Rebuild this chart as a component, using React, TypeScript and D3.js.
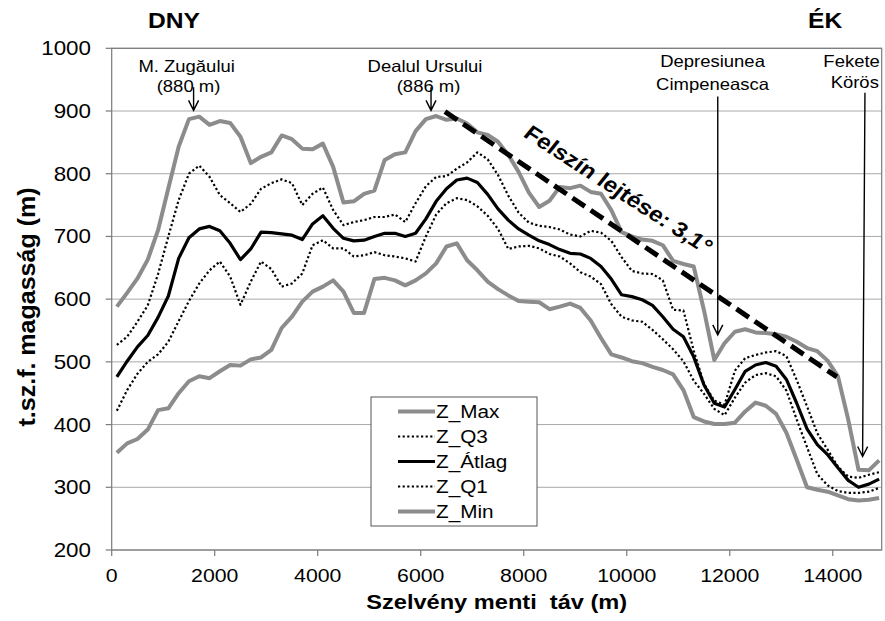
import * as d3 from "d3";

// sampling positions along the profile (m)
const DIST = d3.range(100, 15000, 200);

const zMax = [
  588, 610, 633, 663, 710, 777, 843, 887, 891, 878,
  884, 881, 859, 817, 827, 834, 861, 855, 840, 839,
  848, 811, 754, 756, 768, 773, 822, 831, 834, 868,
  887, 892, 886, 888, 880, 866, 862, 851, 830, 803,
  770, 747, 757, 779, 777, 781, 771, 768, 742, 707,
  700, 695, 693, 686, 661, 656, 652, 582, 503, 530,
  548, 552, 547, 546, 544, 540, 532, 522, 517, 502,
  477, 408, 328, 327, 343,
];
const zQ3 = [
  527, 540, 564, 590, 640, 700, 758, 800, 813, 795,
  766, 753, 739, 752, 776, 785, 791, 785, 750, 768,
  778, 742, 718, 723, 726, 731, 731, 735, 723, 753,
  780, 795, 796, 808, 818, 834, 823, 798, 765, 738,
  722, 717, 715, 711, 703, 700, 709, 706, 693, 667,
  645, 641, 640, 630, 583, 582, 518, 465, 438, 432,
  486, 506, 511, 515, 517, 509, 471, 429, 386, 360,
  333, 317, 315, 320, 324,
];
const zAtlag = [
  476, 501, 524, 542, 571, 605, 665, 698, 712, 716,
  709, 689, 663, 680, 707, 706, 704, 702, 695, 720,
  733, 713, 697, 693, 694, 700, 705, 705, 700, 705,
  728, 756, 776, 790, 793, 786, 767, 744, 726, 712,
  702, 693, 687, 679, 673, 672, 665, 652, 632, 607,
  604, 599, 590, 572, 552, 540, 508, 463, 434, 428,
  456, 485, 495, 499, 493, 472, 434, 393, 368, 352,
  331, 311, 300, 305, 313,
];
const zQ1 = [
  422, 455, 481, 500, 512, 532, 565, 597, 625, 646,
  660, 636, 591, 628, 660, 648, 620, 625, 641, 686,
  694, 681, 681, 668, 670, 675, 670, 668, 665, 660,
  700, 735, 753, 761, 758, 748, 733, 712, 680, 684,
  685, 681, 672, 668, 657, 643, 636, 624, 592, 572,
  566, 564, 551, 536, 520, 501, 470, 449, 425, 415,
  443, 467, 479, 482, 477, 454, 408, 364, 321, 303,
  294, 291, 291, 293, 299,
];
const zMin = [
  355, 370, 377, 392, 423, 426, 450, 469, 477, 474,
  485, 495, 494, 504, 507, 519, 554, 572, 596, 612,
  620, 630, 612, 578, 578, 632, 634, 630, 622, 630,
  641, 657, 684, 689, 662, 646, 628, 616, 606, 597,
  596, 595, 584, 588, 593, 586, 566, 538, 512, 507,
  501, 498, 492, 487, 480, 455, 412, 405, 401, 401,
  403, 421, 435, 430, 417, 387, 344, 300, 296, 293,
  287, 281, 279, 280, 283,
];

const xTicks = [0, 2000, 4000, 6000, 8000, 10000, 12000, 14000];
const yTicks = [200, 300, 400, 500, 600, 700, 800, 900, 1000];

// annotation texts (data units)
const labels = [
  { text: "M. Zugăului", x: 1455, y: 962, anchor: "middle" },
  { text: "(880 m)", x: 1491, y: 931, anchor: "middle" },
  { text: "Dealul Ursului", x: 6083, y: 962, anchor: "middle" },
  { text: "(886 m)", x: 6151, y: 931, anchor: "middle" },
  { text: "Depresiunea", x: 11666, y: 970, anchor: "middle" },
  { text: "Cimpeneasca", x: 11666, y: 934, anchor: "middle" },
  { text: "Fekete", x: 14913, y: 970, anchor: "end" },
  { text: "Körös", x: 14895, y: 937, anchor: "end" },
];
const arrows = [
  { x1: 1590, y1: 938, x2: 1590, y2: 901 },
  { x1: 6200, y1: 938, x2: 6200, y2: 901 },
  { x1: 11767, y1: 923, x2: 11767, y2: 543 },
  { x1: 14625, y1: 929, x2: 14579, y2: 349 },
];
const slope = { x1: 6470, y1: 899, x2: 14080, y2: 476 };

const W = 885;
const H = 621;
const SX = 1.12; // text in the picture is a little wider than normal
const FONT = "'Liberation Sans', Arial, sans-serif";
const GRAY = "#8c8c8c";

const series = [
  { name: "Z_Max", values: zMax, color: GRAY, width: 4, dash: "" },
  { name: "Z_Q3", values: zQ3, color: "#000", width: 2.2, dash: "2.2 2.4" },
  { name: "Z_Átlag", values: zAtlag, color: "#000", width: 3.2, dash: "" },
  { name: "Z_Q1", values: zQ1, color: "#000", width: 2.2, dash: "2.2 2.4" },
  { name: "Z_Min", values: zMin, color: GRAY, width: 4, dash: "" },
];

function T({ x, y, size, anchor = "start", weight = "normal", children, rotate = 0, len }: any) {
  return (
    <text
      transform={`translate(${x},${y}) scale(${SX},1) rotate(${rotate})`}
      fontSize={size}
      fontFamily={FONT}
      fontWeight={weight}
      textAnchor={anchor}
      fill="#000"
      style={{ whiteSpace: "pre" }}
      textLength={len}
      lengthAdjust={len ? "spacingAndGlyphs" : undefined}
    >
      {children}
    </text>
  );
}

export default function App() {
  const x = d3.scaleLinear().domain([0, 14950]).range([111.7, 881.7]);
  const y = d3.scaleLinear().domain([200, 1000]).range([550, 48.3]);
  const [x0, x1] = x.range();
  const [y0, y1] = y.range();

  const line = d3
    .line<number>()
    .x((_, i) => x(DIST[i]))
    .y((d) => y(d));

  const arrowPath = (a: { x1: number; y1: number; x2: number; y2: number }) => {
    const ax = x(a.x1), ay = y(a.y1), bx = x(a.x2), by = y(a.y2);
    const ang = Math.atan2(by - ay, bx - ax);
    const L = 10, Wd = 5;
    const cx = bx - L * Math.cos(ang), cy = by - L * Math.sin(ang);
    const px = -Math.sin(ang) * Wd, py = Math.cos(ang) * Wd;
    return `M${ax},${ay}L${bx},${by}M${cx + px},${cy + py}L${bx},${by}L${cx - px},${cy - py}`;
  };

  const legendX = 371, legendY = 397, legendW = 166, legendH = 129;

  return (
    <svg width={W} height={H} style={{ position: "absolute", left: 0, top: 0, background: "#fff" }}>
      {/* grid */}
      {yTicks.map((t) => (
        <line key={t} x1={x0} x2={x1} y1={y(t)} y2={y(t)} stroke="#a8a8a8" strokeWidth={1} />
      ))}
      {/* plot box */}
      <rect x={x0} y={y1} width={x1 - x0} height={y0 - y1} fill="none" stroke="#7a7a7a" strokeWidth={1.2} />
      {/* ticks */}
      {yTicks.map((t) => (
        <line key={"yt" + t} x1={x0 - 6} x2={x0} y1={y(t)} y2={y(t)} stroke="#7a7a7a" strokeWidth={1.2} />
      ))}
      {xTicks.map((t) => (
        <line key={"xt" + t} x1={x(t)} x2={x(t)} y1={y0} y2={y0 + 6} stroke="#7a7a7a" strokeWidth={1.2} />
      ))}
      {yTicks.map((t) => (
        <T key={"yl" + t} x={91} y={y(t) + 7} size={20} anchor="end">
          {t}
        </T>
      ))}
      {xTicks.map((t) => (
        <T key={"xl" + t} x={x(t)} y={582} size={19} anchor="middle">
          {t}
        </T>
      ))}

      {/* series */}
      {[...series].reverse().map((s) => (
        <path
          key={s.name}
          d={line(s.values) || ""}
          fill="none"
          stroke={s.color}
          strokeWidth={s.width}
          strokeDasharray={s.dash || undefined}
          strokeLinejoin="round"
        />
      ))}

      {/* slope line */}
      <line
        x1={x(slope.x1)}
        y1={y(slope.y1)}
        x2={x(slope.x2)}
        y2={y(slope.y2)}
        stroke="#000"
        strokeWidth={5}
        strokeDasharray="15 7"
      />
      <T x={x(7973)} y={y(860)} size={21} weight="bold" rotate={36} len={202}>
        Felszín lejtése: 3,1°
      </T>

      {/* annotations */}
      {labels.map((l) => (
        <T key={l.text} x={x(l.x)} y={y(l.y)} size={16.5} anchor={l.anchor}>
          {l.text}
        </T>
      ))}
      {arrows.map((a, i) => (
        <path key={i} d={arrowPath(a)} fill="none" stroke="#000" strokeWidth={1.4} />
      ))}
      <T x={x(705)} y={y(1032)} size={22} weight="bold">
        DNY
      </T>
      <T x={x(13520)} y={y(1032)} size={22} weight="bold">
        ÉK
      </T>

      {/* legend */}
      <rect x={legendX} y={legendY} width={legendW} height={legendH} fill="#fff" stroke="#555" strokeWidth={1} />
      {series.map((s, i) => {
        const cy = legendY + 14.5 + i * 25;
        return (
          <g key={"lg" + s.name}>
            <line
              x1={legendX + 27}
              x2={legendX + 64}
              y1={cy}
              y2={cy}
              stroke={s.color}
              strokeWidth={s.width}
              strokeDasharray={s.dash || undefined}
            />
            <T x={legendX + 65} y={cy + 6.7} size={18.5}>
              {s.name}
            </T>
          </g>
        );
      })}

      {/* axis titles */}
      <T x={(x0 + x1) / 2} y={609} size={20.5} weight="bold" anchor="middle" len={233}>
        Szelvény menti  táv (m)
      </T>
      <T x={35} y={307} size={21} weight="bold" anchor="middle" rotate={-90} len={239}>
        t.sz.f. magasság (m)
      </T>
    </svg>
  );
}
